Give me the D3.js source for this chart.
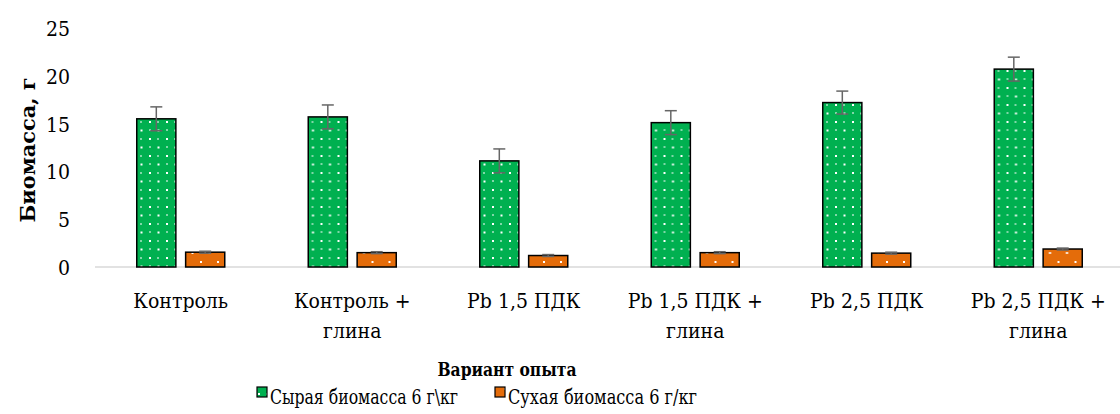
<!DOCTYPE html>
<html><head><meta charset="utf-8">
<script src="https://cdn.jsdelivr.net/npm/d3@7/dist/d3.min.js"></script>
<style>html,body{margin:0;padding:0;background:#fff;} svg{display:block;}
svg text{font-family:"DejaVu Serif Condensed","DejaVu Serif",serif;font-stretch:condensed;}
</style>
</head><body>
<svg id="c" width="1120" height="414"></svg>
<script>
const categories = [["Контроль"],["Контроль +","глина"],["Pb 1,5 ПДК"],["Pb 1,5 ПДК +","глина"],["Pb 2,5 ПДК"],["Pb 2,5 ПДК +","глина"]];
const seriesNames = ["Сырая биомасса 6 г\\кг","Сухая биомасса 6 г/кг"];
const wetValues = [15.5, 15.7, 11.1, 15.1, 17.2, 20.7];
const wetErrors = [1.25, 1.25, 1.25, 1.25, 1.2, 1.25];
const dryValues = [1.55, 1.5, 1.2, 1.5, 1.45, 1.88];
const dryErrors = [0.1, 0.1, 0.1, 0.1, 0.1, 0.1];
const yTicks = [0, 5, 10, 15, 20, 25];

const svg = d3.select("#c");
const colors = ["#00B050", "#E46C0A"];

const defs = svg.append("defs");
const pg = defs.append("pattern").attr("id","pg").attr("patternUnits","userSpaceOnUse")
  .attr("width",17).attr("height",17);
pg.append("rect").attr("width",17).attr("height",17).attr("fill",colors[0]);
[[3,2,2,2],[11.5,2,1,2],[3,10.5,2,1],[11.5,10.5,2,2]].forEach(d=>{
  pg.append("rect").attr("x",d[0]).attr("y",d[1]).attr("width",d[2]).attr("height",d[3]).attr("fill","#fff");
});
const po = defs.append("pattern").attr("id","po").attr("patternUnits","userSpaceOnUse")
  .attr("width",17).attr("height",17);
po.append("rect").attr("width",17).attr("height",17).attr("fill",colors[1]);
[[3,6,2,2],[11.5,14,2,2]].forEach(d=>{
  po.append("rect").attr("x",d[0]).attr("y",d[1]).attr("width",d[2]).attr("height",d[3]).attr("fill","#fff");
});
const fills = ["url(#pg)","url(#po)"];

const x0 = d3.scaleBand().domain(d3.range(categories.length)).range([95, 1124]).padding(0);
const y = d3.scaleLinear().domain([0, 25]).range([267, 28]);
const x1 = d3.scaleBand().domain([0,1]).range([x0.bandwidth()/2-44, x0.bandwidth()/2+44]).paddingInner(0.2);

svg.append("line").attr("x1",95).attr("x2",1120).attr("y1",y(0)).attr("y2",y(0))
  .attr("stroke","#D9D9D9").attr("stroke-width",1.5);

const yAxis = d3.axisLeft(y).tickValues(yTicks).tickSize(0).tickPadding(0);
const ya = svg.append("g").attr("transform","translate(70,0)").call(yAxis);
ya.select(".domain").remove();
ya.attr("font-family",null).attr("font-size",null);
ya.selectAll("text").style("font-size","21px").attr("fill","#000").attr("dy","0.36em");

const data = categories.map((c,i)=>({i, vals:[wetValues[i], dryValues[i]], errs:[wetErrors[i], dryErrors[i]]}));
const groups = svg.selectAll("g.grp").data(data).join("g").attr("class","grp")
  .attr("transform",d=>`translate(${x0(d.i)},0)`);
groups.selectAll("rect").data(d=>d.vals.map((v,k)=>({v,k}))).join("rect")
  .attr("x",d=>x1(d.k)).attr("width",x1.bandwidth())
  .attr("y",d=>y(d.v)).attr("height",d=>y(0)-y(d.v))
  .attr("fill",d=>fills[d.k]).attr("stroke","#000").attr("stroke-width",1.5);
const eb = groups.selectAll("g.eb").data(d=>d.vals.map((v,k)=>({v,k,e:d.errs[k]}))).join("g").attr("class","eb");
const cx = d=>x1(d.k)+x1.bandwidth()/2;
eb.append("line").attr("x1",cx).attr("x2",cx)
  .attr("y1",d=>y(d.v+d.e)).attr("y2",d=>y(d.v-d.e)).attr("stroke","#666").attr("stroke-width",1.5);
eb.append("line").attr("x1",d=>cx(d)-6).attr("x2",d=>cx(d)+6)
  .attr("y1",d=>y(d.v+d.e)).attr("y2",d=>y(d.v+d.e)).attr("stroke","#666").attr("stroke-width",1.5);
eb.append("line").attr("x1",d=>cx(d)-6).attr("x2",d=>cx(d)+6)
  .attr("y1",d=>y(d.v-d.e)).attr("y2",d=>y(d.v-d.e)).attr("stroke","#666").attr("stroke-width",1.5);

const cl = svg.selectAll("text.cat").data(categories).join("text").attr("class","cat")
  .style("font-size","21px").attr("text-anchor","middle");
cl.each(function(lines,i){
  const t = d3.select(this);
  lines.forEach((ln,j)=>{
    t.append("tspan").attr("x",x0(i)+x0.bandwidth()/2).attr("y",308+j*30).text(ln);
  });
});

svg.append("text").attr("x",507).attr("y",376).attr("text-anchor","middle")
  .style("font-size","19px").attr("font-weight","bold")
  .attr("textLength",139).attr("lengthAdjust","spacingAndGlyphs").text("Вариант опыта");
svg.append("text").attr("transform","translate(35,150) rotate(-90)").attr("text-anchor","middle")
  .style("font-size","21px").attr("font-weight","bold")
  .attr("textLength",145).attr("lengthAdjust","spacingAndGlyphs").text("Биомасса, г");

const legX = [257, 495];
const legW = [188, 189];
seriesNames.forEach((n,k)=>{
  svg.append("rect").attr("x",legX[k]).attr("y",387).attr("width",10).attr("height",10)
    .attr("fill",fills[k]).attr("stroke","#000").attr("stroke-width",1.2);
  svg.append("text").attr("x",legX[k]+13).attr("y",404).style("font-size","20px")
    .attr("textLength",legW[k]).attr("lengthAdjust","spacingAndGlyphs").text(n);
});
</script>
</body></html>
